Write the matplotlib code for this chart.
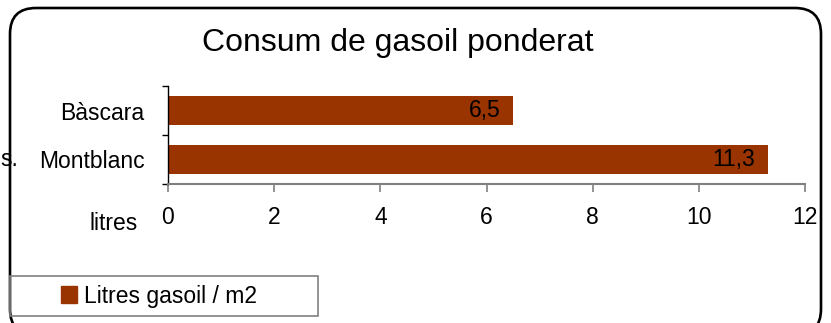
import matplotlib
matplotlib.use("Agg")
import matplotlib.pyplot as plt
from matplotlib.patches import FancyBboxPatch, Rectangle, Patch

categories = ["Bàscara", "Montblanc"]
values = [6.5, 11.3]
x_ticks = [0, 2, 4, 6, 8, 10, 12]
title = "Consum de gasoil ponderat"
series_name = "Litres gasoil / m2"
axis_title = "litres"
side_text = "s."

BAR_COLOR = "#993300"
AXIS_COLOR = "#808080"
W, H = 831, 323
FS = 16.5

plt.rcParams["font.family"] = ["Liberation Sans", "DejaVu Sans"]

fig = plt.figure(figsize=(W / 100, H / 100), dpi=100)


def px_x(x):
    return x / W


def px_y(y):
    return 1 - y / H


# Rounded outer frame of the chart area
frame = FancyBboxPatch((0.10, -0.12), 8.11, 3.27,
                       boxstyle="round,pad=0,rounding_size=0.26",
                       transform=fig.dpi_scale_trans, fill=False,
                       edgecolor="black", linewidth=1.9, zorder=0)
fig.patches.append(frame)

ax = fig.add_axes([px_x(168), px_y(184), px_x(805) - px_x(168), px_y(86) - px_y(184)])
ypos = list(range(len(categories)))
bars = ax.barh(ypos, values, height=0.61, color=BAR_COLOR, zorder=2)
ax.set_xlim(0, 12)
ax.set_ylim(1.5, -0.5)

for v, yp in zip(values, ypos):
    ax.annotate(f"{v:.1f}".replace(".", ","), xy=(v, yp), xytext=(-9, 0),
                textcoords="offset points", ha="right", va="center",
                fontsize=FS, color="black", zorder=3)

ax.set_yticks(ypos)
ax.set_yticklabels(categories, fontsize=FS)
ax.set_yticks([-0.5, 0.5, 1.5], minor=True)
ax.tick_params(axis="y", which="major", length=0, pad=17)
ax.tick_params(axis="y", which="minor", length=4, width=1, color="black", direction="out")

ax.set_xticks(x_ticks)
ax.set_xticklabels([str(t) for t in x_ticks], fontsize=FS)
ax.tick_params(axis="x", length=6, width=1.2, color=AXIS_COLOR, direction="out", pad=10)

for side in ("top", "right"):
    ax.spines[side].set_visible(False)
ax.spines["bottom"].set_color(AXIS_COLOR)
ax.spines["bottom"].set_linewidth(1.5)
ax.spines["left"].set_color("black")
ax.spines["left"].set_linewidth(1.0)
ax.set_facecolor("none")

fig.text(px_x(398), px_y(43), title, ha="center", va="center", fontsize=23)
fig.text(px_x(114), px_y(223), axis_title, ha="center", va="center", fontsize=FS)
fig.text(px_x(0), px_y(160), side_text, ha="left", va="center", fontsize=FS)

# Legend with its own rectangular box
fig.patches.append(Rectangle((px_x(10), px_y(316)), px_x(318) - px_x(10), px_y(276) - px_y(316),
                             transform=fig.transFigure, fill=False,
                             edgecolor=AXIS_COLOR, linewidth=1.2))
fig.legend(handles=[Patch(facecolor=BAR_COLOR, edgecolor=BAR_COLOR, label=series_name)],
           loc="center left", bbox_to_anchor=(px_x(61), px_y(296)),
           frameon=False, fontsize=FS, borderpad=0, borderaxespad=0,
           handlelength=0.7, handleheight=0.7, handletextpad=0.3)

fig.savefig("out.png", dpi=100)
